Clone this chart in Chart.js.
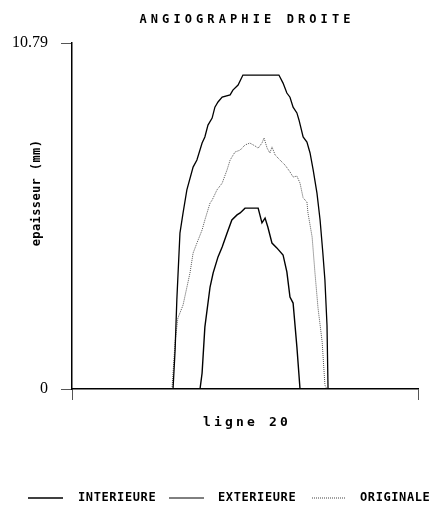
<!DOCTYPE html>
<html>
<head>
<meta charset="utf-8">
<script src="https://cdn.jsdelivr.net/npm/chart.js@4.4.1/dist/chart.umd.min.js"></script>
<style>
  html, body { margin: 0; padding: 0; background: #fff; }
  #wrap { width: 433px; height: 509px; }
</style>
</head>
<body>
<div id="wrap"><canvas id="angioChart" width="433" height="509"></canvas></div>
<script>
// valeurs (abscisse: position le long de la ligne 20)
const yTicks = [0, 10.79];
const xTicks = [0, 100];

const extX = [0, 29.2, 29.8, 30.3, 31.2, 32.1, 33.2, 35.0, 36.1, 37.6, 38.4, 39.3, 40.5, 41.3, 42.2, 43.4, 45.7, 46.5, 48.0, 49.4, 59.8, 61.0, 62.1, 63.0, 63.9, 65.0, 65.6, 66.8, 67.9, 68.8, 69.7, 70.8, 71.7, 72.5, 73.1, 73.7, 74.0, 100];
const extY = [0, 0, 1.22, 2.78, 4.86, 5.49, 6.21, 6.92, 7.14, 7.67, 7.86, 8.23, 8.45, 8.79, 8.95, 9.10, 9.17, 9.32, 9.48, 9.79, 9.79, 9.54, 9.23, 9.10, 8.79, 8.61, 8.39, 7.86, 7.70, 7.36, 6.83, 6.11, 5.27, 4.24, 3.39, 1.99, 0, 0];

const intX = [0, 37.0, 37.6, 38.4, 39.9, 40.8, 42.2, 43.4, 44.8, 46.2, 47.7, 48.6, 50.0, 53.8, 54.9, 55.8, 56.6, 57.8, 59.2, 61.0, 62.1, 63.0, 63.9, 65.0, 65.9, 100];
const intY = [0, 0, 0.50, 1.93, 3.18, 3.62, 4.12, 4.43, 4.86, 5.27, 5.43, 5.49, 5.64, 5.64, 5.18, 5.33, 5.05, 4.55, 4.40, 4.18, 3.65, 2.87, 2.68, 1.31, 0, 0];

const origX = [0, 28.9, 29.8, 30.6, 32.1, 34.1, 35.0, 36.1, 37.6, 38.4, 39.9, 40.5, 41.9, 43.4, 44.8, 45.7, 47.1, 48.6, 50.0, 51.4, 52.9, 53.8, 54.9, 55.5, 56.4, 57.2, 57.8, 58.7, 60.1, 61.6, 63.0, 63.9, 65.0, 65.9, 66.8, 67.9, 68.2, 69.4, 70.2, 71.1, 72.3, 73.1, 73.7, 100];
const origY = [0, 0, 1.47, 2.21, 2.62, 3.62, 4.24, 4.55, 4.96, 5.27, 5.80, 5.89, 6.21, 6.42, 6.83, 7.14, 7.39, 7.45, 7.61, 7.67, 7.58, 7.51, 7.67, 7.83, 7.51, 7.36, 7.55, 7.30, 7.14, 6.98, 6.77, 6.61, 6.64, 6.42, 5.96, 5.83, 5.49, 4.74, 3.65, 2.53, 1.47, 0.12, 0, 0];

const seriesNames = ['INTERIEURE', 'EXTERIEURE', 'ORIGINALE'];

function toPoints(xs, ys) {
    return xs.map((x, i) => ({ x: x, y: ys[i] }));
}

// titre, libellés d'axes et légende dessinés à la main (positions du document original)
const decorPlugin = {
    id: 'decor',
    afterDraw(chart) {
        const ctx = chart.ctx;
        const area = chart.chartArea;
        const cx = (area.left + area.right) / 2;
        ctx.save();
        ctx.fillStyle = '#000';
        ctx.textBaseline = 'middle';

        // titre
        ctx.font = 'bold 12px "DejaVu Sans Mono"';
        ctx.letterSpacing = '4.1px';
        ctx.textAlign = 'center';
        ctx.fillText('ANGIOGRAPHIE DROITE', cx + 2, 20);

        // axe x
        ctx.font = 'bold 13px "DejaVu Sans Mono"';
        ctx.letterSpacing = '3.2px';
        ctx.fillText('ligne 20', cx + 2, 423);

        // axe y
        ctx.save();
        ctx.translate(37, 193);
        ctx.rotate(-Math.PI / 2);
        ctx.font = 'bold 12px "DejaVu Sans Mono"';
        ctx.letterSpacing = '0.4px';
        ctx.fillText('epaisseur (mm)', 0, 0);
        ctx.restore();

        // légende
        const legendY = 498;
        const items = [
            { x0: 28, x1: 63, tx: 78, dash: [], color: '#000', width: 1.4 },
            { x0: 169, x1: 204, tx: 218, dash: [], color: '#000', width: 1 },
            { x0: 312, x1: 346, tx: 360, dash: [1, 1], color: '#444', width: 1 }
        ];
        ctx.font = 'bold 12px "DejaVu Sans Mono"';
        ctx.letterSpacing = '0.6px';
        ctx.textAlign = 'left';
        items.forEach((it, i) => {
            ctx.beginPath();
            ctx.setLineDash(it.dash);
            ctx.lineWidth = it.width;
            ctx.strokeStyle = it.color;
            ctx.moveTo(it.x0, legendY);
            ctx.lineTo(it.x1, legendY);
            ctx.stroke();
            ctx.fillText(seriesNames[i], it.tx, legendY);
        });
        ctx.restore();
    }
};

const ctx = document.getElementById('angioChart').getContext('2d');
const angioChart = new Chart(ctx, {
    type: 'scatter',
    data: {
        datasets: [
            {
                label: seriesNames[0],
                data: toPoints(intX, intY),
                showLine: true,
                borderColor: '#000',
                borderWidth: 1.4,
                pointRadius: 0,
                tension: 0
            },
            {
                label: seriesNames[1],
                data: toPoints(extX, extY),
                showLine: true,
                borderColor: '#000',
                borderWidth: 1.3,
                pointRadius: 0,
                tension: 0
            },
            {
                label: seriesNames[2],
                data: toPoints(origX, origY),
                showLine: true,
                borderColor: '#555',
                borderWidth: 1,
                borderDash: [1, 1],
                pointRadius: 0,
                tension: 0
            }
        ]
    },
    options: {
        responsive: false,
        animation: false,
        layout: {
            padding: { left: 0, right: 15, top: 43, bottom: 0 }
        },
        scales: {
            x: {
                type: 'linear',
                min: 0,
                max: 100,
                afterBuildTicks: (scale) => { scale.ticks = xTicks.map(v => ({ value: v })); },
                afterFit: (scale) => { scale.height = 120; },
                ticks: { callback: () => '' },
                grid: { drawOnChartArea: false, tickLength: 11, color: '#555', lineWidth: 1 },
                border: { display: true, color: '#000', width: 1.5 }
            },
            y: {
                type: 'linear',
                min: 0,
                max: 10.79,
                afterBuildTicks: (scale) => { scale.ticks = yTicks.map(v => ({ value: v })); },
                afterFit: (scale) => { scale.width = 72; },
                ticks: {
                    color: '#000',
                    padding: 13,
                    font: { family: '"Liberation Serif"', size: 16 },
                    callback: (value) => value === 0 ? '0' : value.toFixed(2)
                },
                grid: { drawOnChartArea: false, tickLength: 11, color: '#555', lineWidth: 1 },
                border: { display: true, color: '#000', width: 1.5 }
            }
        },
        plugins: {
            legend: { display: false },
            title: { display: false },
            tooltip: { enabled: false }
        }
    },
    plugins: [decorPlugin]
});
</script>
</body>
</html>
